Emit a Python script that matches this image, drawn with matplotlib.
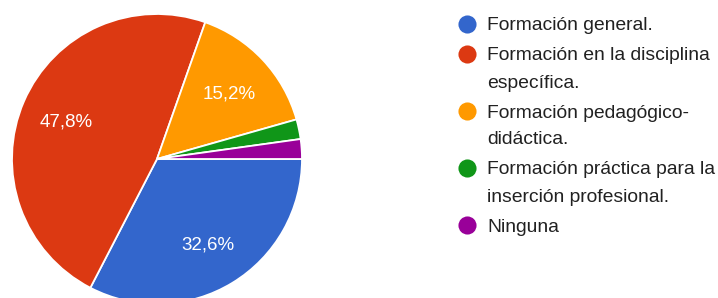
import matplotlib
matplotlib.use("Agg")
import matplotlib.pyplot as plt

# values
categories = ["Formación general.",
              "Formación en la disciplina\nespecífica.",
              "Formación pedagógico-\ndidáctica.",
              "Formación práctica para la\ninserción profesional.",
              "Ninguna"]
shares = [32.6, 47.8, 15.2, 2.2, 2.2]
colors = ["#3366CC", "#DC3912", "#FF9900", "#109618", "#990099"]

plt.rcParams['font.family'] = ['Liberation Sans', 'DejaVu Sans']

W, H = 718, 298
fig = plt.figure(figsize=(W / 100, H / 100), dpi=100)

# pie axes: centre (157,159) px, radius 145 px
cx, cy, r = 157, 159, 145
ax = fig.add_axes([(cx - r) / W, (H - cy - r) / H, 2 * r / W, 2 * r / H])


def pct(p):
    return "" if p < 5 else f"{p:.1f}%".replace(".", ",")


wedges, texts, autotexts = ax.pie(
    shares, colors=colors, startangle=0, counterclock=False,
    autopct=pct, pctdistance=0.68, radius=1.0,
    wedgeprops=dict(edgecolor="white", linewidth=1.3),
    textprops=dict(color="white", fontsize=13.5))
for t in autotexts:
    t.set_va("center_baseline")
ax.set_xlim(-1.0, 1.0)
ax.set_ylim(-1.0, 1.0)
ax.set_aspect("equal")
ax.axis("off")

# hand-drawn legend (marker aligned with first line)
lax = fig.add_axes([0, 0, 1, 1])
lax.set_xlim(0, W)
lax.set_ylim(H, 0)
lax.axis("off")
y = 23.5
for name, col in zip(categories, colors):
    lax.scatter([467], [y], s=170, color=col, linewidths=0)
    lines = name.split("\n")
    for k, ln in enumerate(lines):
        lax.text(487, y + k * 27 + 7, ln, fontsize=13.9, color="#212121",
                 va="baseline", ha="left")
    y += 27 * (len(lines) - 1) + 30

fig.savefig("out.png", dpi=100)
